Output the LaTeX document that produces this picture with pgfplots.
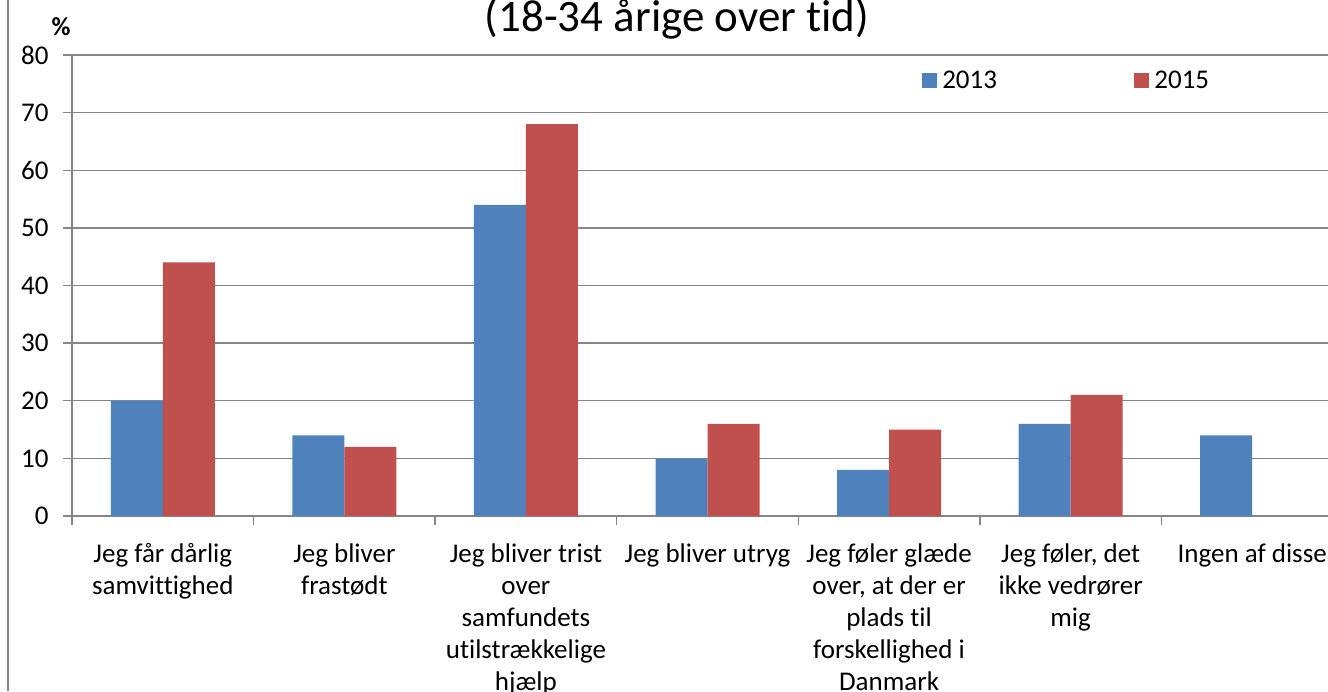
\documentclass[border=0pt]{standalone}
\usepackage{fontspec}
\setmainfont{Carlito}[Ligatures=NoCommon]
\usepackage{pgfplots}
\pgfplotsset{compat=1.18}
\definecolor{bar13}{HTML}{4F81BD}
\definecolor{bar15}{HTML}{C0504D}
\definecolor{gridgray}{HTML}{868686}
\pgfplotsset{
  square legend/.style={legend image code/.code={\fill[##1] (0pt,-3.75pt) rectangle (7.5pt,3.75pt);}},
}
\begin{document}
\begin{tikzpicture}
\useasboundingbox (0,0) rectangle (664pt,345.5pt);
\clip (0,0) rectangle (664pt,345.5pt);
\draw[gridgray, line width=1pt] (4pt,0) -- (4pt,345.5pt);
\node[anchor=base, font=\fontsize{22.5}{27}\selectfont] at (338.5pt,329.5pt) {(18-34 årige over tid)};
\node[font=\fontsize{13}{15}\selectfont\bfseries] at (30.5pt,332pt) {\%};
\begin{axis}[
  at={(36pt,87.5pt)}, anchor=south west,
  scale only axis, width=635.5pt, height=230.5pt,
  xmin=-0.5, xmax=6.5, ymin=0, ymax=80,
  ytick={0,10,...,80},
  xtick={0,...,6},
  xticklabels={
    {Jeg får dårlig\\samvittighed},
    {Jeg bliver\\frastødt},
    {Jeg bliver trist\\over\\samfundets\\utilstrækkelige\\hjælp},
    {Jeg bliver utryg},
    {Jeg føler glæde\\over, at der er\\plads til\\forskellighed i\\Danmark},
    {Jeg føler, det\\ikke vedrører\\mig},
    {Ingen af disse}},
  minor xtick={-0.5,0.5,...,6.5},
  axis x line*=bottom, axis y line*=left,
  axis line style={gridgray, line width=0.7pt, -},
  ymajorgrids, grid style={gridgray, line width=0.7pt},
  tick align=outside,
  major tick length=4.5pt, minor tick length=4.5pt,
  major x tick style={draw=none},
  minor x tick style={gridgray, line width=0.7pt},
  ytick style={gridgray, line width=0.7pt},
  /pgf/number format/assume math mode=true,
  tick label style={font=\fontsize{13.5}{16}\selectfont},
  yticklabel style={anchor=east, inner sep=0pt, xshift=-7pt},
  xticklabel style={align=center, anchor=north, inner sep=0pt, yshift=-9pt},
  ybar=0pt, bar width=26pt,
  legend columns=2,
  legend style={at={(0.6685,0.944)}, anchor=west, draw=none, fill=none,
    inner sep=0pt, font=\fontsize{13.5}{16}\selectfont,
    nodes={inner sep=2.6pt},
    /tikz/every even column/.append style={column sep=66pt}},
]
\addplot[fill=bar13, draw=none, square legend] coordinates {
  (0,20) (1,14) (2,54) (3,10) (4,8) (5,16) (6,14)
};
\addplot[fill=bar15, draw=none, square legend] coordinates {
  (0,44) (1,12) (2,68) (3,16) (4,15) (5,21)
};
\legend{2013, 2015}
\end{axis}
\end{tikzpicture}
\end{document}
